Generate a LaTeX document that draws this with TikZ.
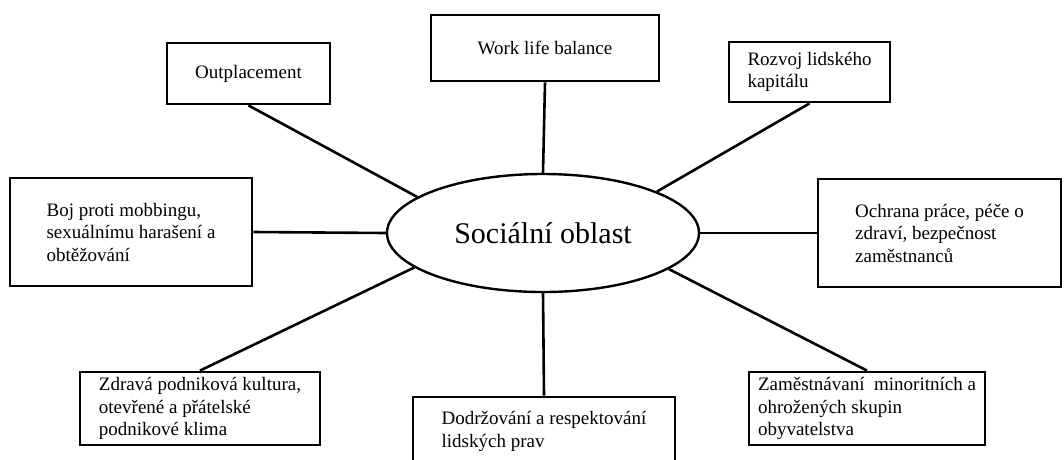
\documentclass[tikz,border=0pt]{standalone}
\usepackage{fontspec}
\setmainfont{Liberation Serif}
\usetikzlibrary{shapes.geometric}
\begin{document}
\begin{tikzpicture}[x=1pt,y=-1pt,
  box/.style={draw, rectangle, line width=2.8pt, align=left, inner sep=0pt, font=\fontsize{19}{22.5}\selectfont},
  hub/.style={draw, ellipse, line width=2.4pt, inner sep=0pt, minimum width=312pt, minimum height=118pt, font=\fontsize{30}{36}\selectfont}]
\clip (0,0) rectangle (1064,459);
\node[hub] (0) at (543,233) {Sociální oblast};
\node[box, minimum width=163pt, minimum height=61pt] (1) at (248.5,73.5) {Outplacement};
\node[box, minimum width=228pt, minimum height=66pt] (2) at (545,48) {Work life balance};
\node[box, minimum width=161pt, minimum height=60pt] (3) at (809.5,72) {Rozvoj lidského\\kapitálu};
\node[box, minimum width=242pt, minimum height=108pt] (4) at (131,232) {Boj proti mobbingu,\\sexuálnímu harašení a\\obtěžování};
\node[box, minimum width=243pt, minimum height=108pt] (5) at (939.5,233) {Ochrana práce, péče o\\zdraví, bezpečnost\\zaměstnanců};
\node[box, minimum width=240pt, minimum height=73pt] (6) at (200,408.5) {Zdravá podniková kultura,\\otevřené a přátelské\\podnikové klima};
\node[box, minimum width=262pt, minimum height=69pt] (7) at (544,431.5) {Dodržování a respektování\\lidských prav};
\node[box, minimum width=236pt, minimum height=73pt] (8) at (867,408.5) {Zaměstnávaní~ minoritních a\\ohrožených skupin\\obyvatelstva};

\path[draw,line width=2.6pt] (1.south) -- (0.164);
\path[draw,line width=2.6pt] (2.south) -- (0.north);
\path[draw,line width=2.6pt] (3.south) -- (0.20);
\path[draw,line width=2.6pt] (4.east) -- (0.west);
\path[draw,line width=2.6pt] (5.west) -- (0.east);
\path[draw,line width=2.6pt] (6.north) -- (0.195);
\path[draw,line width=2.6pt] (7.north) -- (0.south);
\path[draw,line width=2.6pt] (8.north) -- (0.-16);
\end{tikzpicture}
\end{document}
